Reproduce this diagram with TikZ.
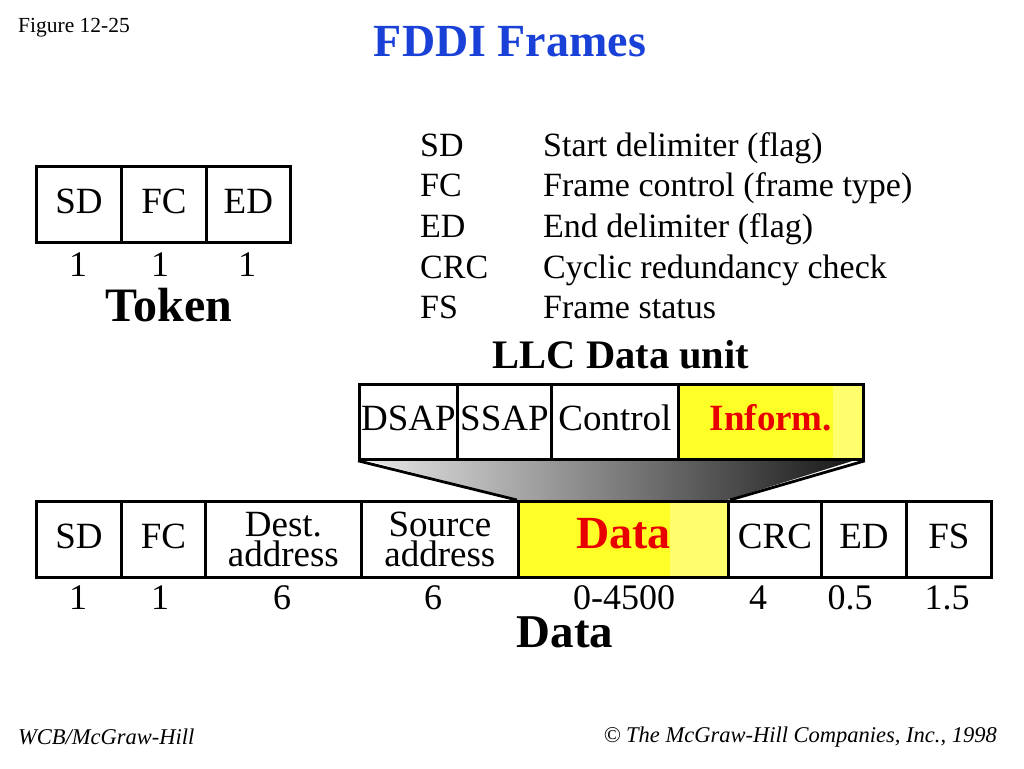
\documentclass[tikz,border=0pt]{standalone}
\usepackage{fontspec}
\setmainfont{Liberation Serif}
\newcommand\fsz[2]{\fontsize{#1pt}{#2pt}\selectfont}
\definecolor{fieldyellow}{RGB}{255,255,40}
\definecolor{paleyellow}{RGB}{255,255,110}
\definecolor{infored}{RGB}{232,0,0}
\definecolor{titleblue}{RGB}{25,65,215}
\tikzset{
  field/.style={draw=black, line width=2.8pt, minimum height=76pt, inner sep=0pt, anchor=north west, font=\fsz{37}{30}, align=center},
  oneline/.style={text height=25pt, text depth=7pt},
  num/.style={inner sep=0pt, font=\fsz{36}{36}},
  bigbold/.style={inner sep=0pt, font=\fsz{46}{46}\bfseries},
  legab/.style={inner sep=0pt, anchor=base west, font=\fsz{34}{34}},
  footer/.style={inner sep=0pt, font=\fsz{22.5}{22.5}\itshape},
  link/.style={draw=black, line width=2.8pt}
}
\begin{document}
\begin{tikzpicture}[x=1pt,y=-1pt]
\useasboundingbox (0,0) rectangle (1024,768);
\fill[white] (0,0) rectangle (1024,768);

% header
\node[inner sep=0pt, anchor=west, font=\fsz{21.5}{21.5}] (fig) at (18,28) {Figure 12-25};
\node[inner sep=0pt, font=\fsz{46}{46}\bfseries, text=titleblue] (title) at (510,42) {FDDI Frames};

% token frame
\node[field, oneline, minimum width=85pt] (tsd) at (35,165) {SD};
\node[field, oneline, minimum width=85pt] (tfc) at (120,165) {FC};
\node[field, oneline, minimum width=84pt] (ted) at (205,165) {ED};
\node[num] (tn1) at (78,265) {1};
\node[num] (tn2) at (160,265) {1};
\node[num] (tn3) at (247,265) {1};
\node[bigbold, font=\fsz{48}{48}\bfseries] (token) at (169,305) {Token};

% legend
\node[legab] (l1a) at (420,156) {SD};
\node[legab] (l1b) at (543,156) {Start delimiter (flag)};
\node[legab] (l2a) at (420,196.5) {FC};
\node[legab] (l2b) at (543,196.5) {Frame control (frame type)};
\node[legab] (l3a) at (420,237) {ED};
\node[legab] (l3b) at (543,237) {End delimiter (flag)};
\node[legab] (l4a) at (420,278) {CRC};
\node[legab] (l4b) at (543,278) {Cyclic redundancy check};
\node[legab] (l5a) at (420,318) {FS};
\node[legab] (l5b) at (543,318) {Frame status};

% LLC data unit
\node[bigbold, font=\fsz{40.5}{40.5}\bfseries] (llctitle) at (621,355) {LLC Data unit};

% gradient trapezoid
\shade[left color=black!8, right color=black!92]
  (358,458) -- (862,458) -- (727,500) -- (517,500) -- cycle;

% yellow fills
\fill[fieldyellow] (677,383) rectangle (833,458);
\fill[paleyellow] (833,383) rectangle (862,458);
\fill[fieldyellow] (517,500) rectangle (670,576);
\fill[paleyellow] (670,500) rectangle (727,576);

\node[field, oneline, minimum width=98pt, minimum height=75pt] (dsap) at (358,383) {DSAP};
\node[field, oneline, minimum width=94pt, minimum height=75pt] (ssap) at (456,383) {SSAP};
\node[field, oneline, minimum width=127pt, minimum height=75pt] (ctrl) at (550,383) {Control};
\node[field, oneline, minimum width=185pt, minimum height=75pt, font=\fsz{37}{37}\bfseries, text=infored] (inform) at (677,383) {Inform.};

\node[field, oneline, minimum width=85pt] (dsd) at (35,500) {SD};
\node[field, oneline, minimum width=84pt] (dfc) at (120,500) {FC};
\node[field, minimum width=156pt] (ddest) at (204,500) {Dest.\\address};
\node[field, minimum width=157pt] (dsrc) at (360,500) {Source\\address};
\node[field, oneline, minimum width=210pt, font=\fsz{46}{46}\bfseries, text=infored] (ddata) at (517,500) {Data};
\node[field, oneline, minimum width=93pt] (dcrc) at (727,500) {CRC};
\node[field, oneline, minimum width=85pt] (ded) at (820,500) {ED};
\node[field, oneline, minimum width=85pt] (dfs) at (905,500) {FS};

% connectors from LLC unit to Data field
\draw[link] (dsap.south west) -- (ddata.north west);
\draw[link] (inform.south east) -- (ddata.north east);

% sizes
\node[num] (dn1) at (78,598) {1};
\node[num] (dn2) at (160,598) {1};
\node[num] (dn3) at (282,598) {6};
\node[num] (dn4) at (433,598) {6};
\node[num] (dn5) at (624,598) {0-4500};
\node[num] (dn6) at (758,598) {4};
\node[num] (dn7) at (850,598) {0.5};
\node[num] (dn8) at (947,598) {1.5};
\node[bigbold, font=\fsz{47}{47}\bfseries] (datalbl) at (565,632) {Data};

% footer
\node[footer, anchor=west] (fl) at (18,737) {WCB/McGraw-Hill};
\node[footer, anchor=east] (fr) at (997,737) {© The McGraw-Hill Companies, Inc., 1998};
\end{tikzpicture}
\end{document}
